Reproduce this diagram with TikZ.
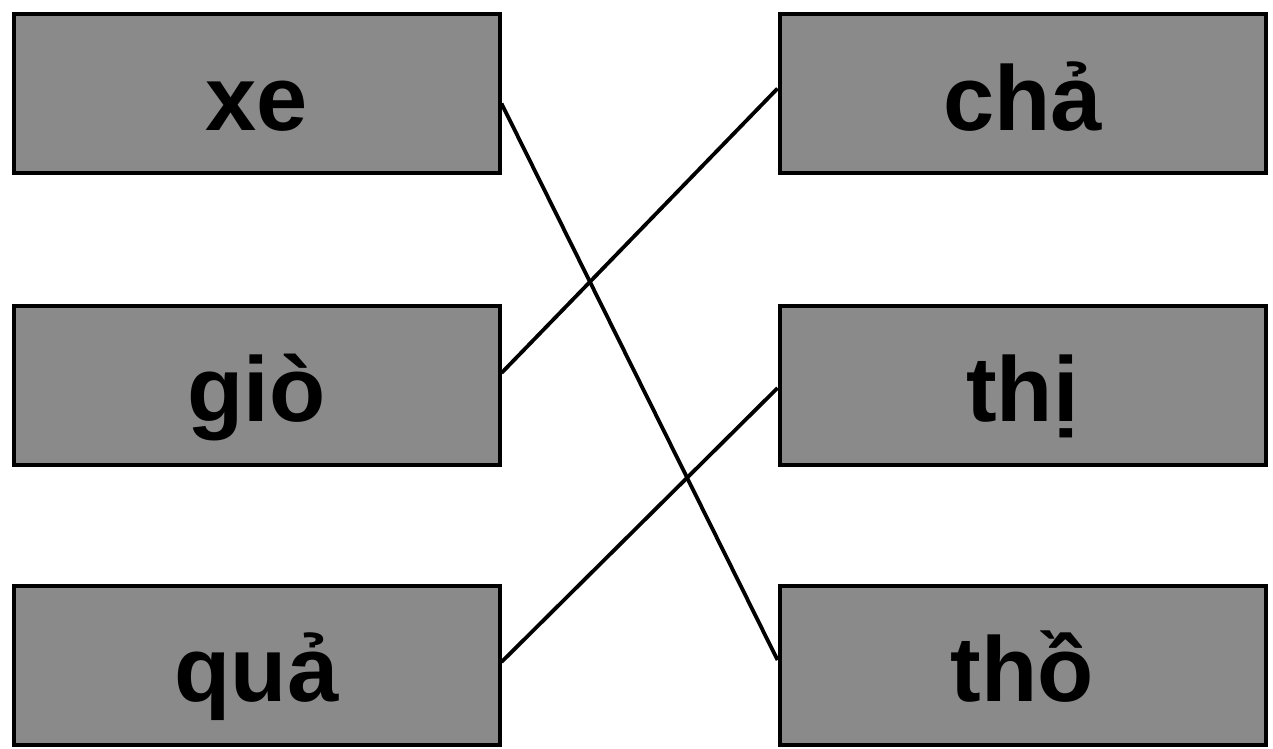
\documentclass[tikz,border=0pt]{standalone}
\usepackage{fontspec}
\setmainfont{Liberation Sans}
\definecolor{boxgray}{RGB}{138,138,138}
\begin{document}
\begin{tikzpicture}[x=1pt,y=1pt,
  wordbox/.style={draw=black, line width=4pt, fill=boxgray, inner sep=0pt,
    minimum width=486pt, text height=116pt, text depth=43pt,
    font=\fontsize{92}{92}\selectfont\bfseries},
  link/.style={draw=black, line width=3.8pt}]
\useasboundingbox (0,0) rectangle (1273,-748);
\fill[white] (0,0) rectangle (1273,-748);
\node[wordbox] (xe)   at (256.5,-93.5) {xe};
\node[wordbox] (gio)  at (256.5,-385)  {giò};
\node[wordbox] (qua)  at (256.5,-665)  {quả};
\node[wordbox] (cha)  at (1022.5,-93.5) {chả};
\node[wordbox] (thi)  at (1022.5,-385)  {thị};
\node[wordbox] (tho)  at (1022.5,-665)  {thồ};
\draw[link] ([yshift=-10pt]xe.east) -- ([yshift=5pt]tho.west);
\draw[link] ([yshift=12pt]gio.east) -- ([yshift=5pt]cha.west);
\draw[link] ([yshift=3pt]qua.east) -- ([yshift=-3pt]thi.west);
\end{tikzpicture}
\end{document}
